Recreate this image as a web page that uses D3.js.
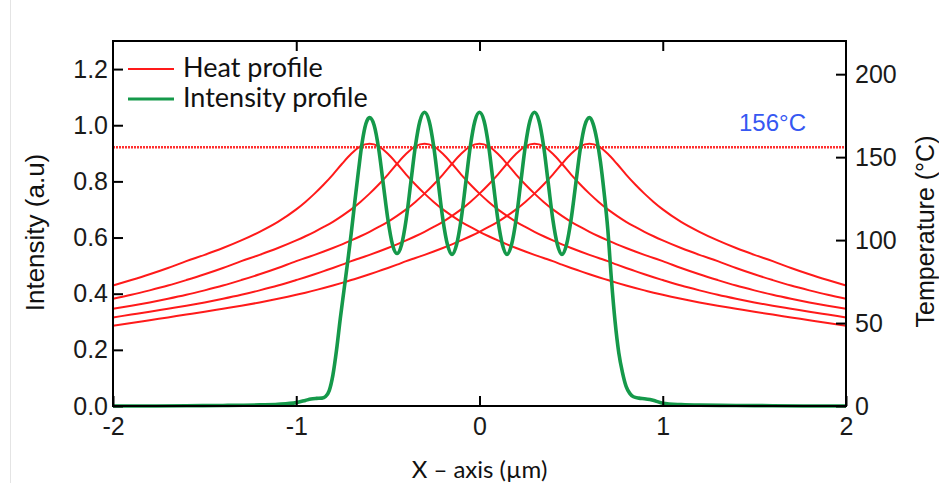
<!DOCTYPE html>
<html>
<head>
<meta charset="utf-8">
<script src="https://cdn.jsdelivr.net/npm/d3@7/dist/d3.min.js"></script>
<style>
  body { margin: 0; background: #fff; }
  svg { display: block; }
</style>
</head>
<body>
<svg id="chart" width="939" height="483"></svg>
<script>
// ---- data ----
const xTicks = [-2, -1, 0, 1, 2];
const intensityTicks = [0, 0.2, 0.4, 0.6, 0.8, 1.0, 1.2];
const tempTicks = [0, 50, 100, 150, 200];

// shared x grid (µm) for the five heat profiles
const heatX = [-2.0, -1.9, -1.8, -1.7, -1.6, -1.5, -1.4, -1.3, -1.2, -1.1, -1.0,
  -0.95, -0.9, -0.85, -0.8, -0.75, -0.7, -0.65, -0.6, -0.55, -0.5, -0.45, -0.4, -0.35, -0.3, -0.25, -0.2, -0.15, -0.1, -0.05, 0,
  0.05, 0.1, 0.15, 0.2, 0.25, 0.3, 0.35, 0.4, 0.45, 0.5, 0.55, 0.6, 0.65, 0.7, 0.75, 0.8, 0.85, 0.9, 0.95,
  1.0, 1.1, 1.2, 1.3, 1.4, 1.5, 1.6, 1.7, 1.8, 1.9, 2.0];

// temperatures (°C), heat spot centred at -0.6 µm
const heatA = [72.6, 75.9, 79.4, 83.2, 87.3, 91.1, 95.2, 99.8, 105.0, 111.0, 118.5,
  123.0, 128.0, 133.5, 139.5, 146.0, 152.0, 156.5, 158.0, 156.5, 152.0, 146.0, 139.5, 133.5, 128.0, 123.0, 118.5, 114.6, 111.0, 107.9, 105.0,
  102.3, 99.8, 97.4, 95.2, 93.1, 91.1, 89.2, 87.3, 85.2, 83.2, 81.3, 79.4, 77.6, 75.9, 74.2, 72.6, 71.1, 69.7, 68.3,
  67.0, 64.6, 62.4, 60.4, 58.6, 56.8, 55.1, 53.4, 51.7, 50.0, 48.4];
// heat spot centred at -0.3 µm
const heatB = [64.6, 67.0, 69.7, 72.6, 75.9, 79.4, 83.2, 87.3, 91.1, 95.2, 99.8,
  102.3, 105.0, 107.9, 111.0, 114.6, 118.5, 123.0, 128.0, 133.5, 139.5, 146.0, 152.0, 156.5, 158.0, 156.5, 152.0, 146.0, 139.5, 133.5, 128.0,
  123.0, 118.5, 114.6, 111.0, 107.9, 105.0, 102.3, 99.8, 97.4, 95.2, 93.1, 91.1, 89.2, 87.3, 85.2, 83.2, 81.3, 79.4, 77.6,
  75.9, 72.6, 69.7, 67.0, 64.6, 62.4, 60.4, 58.6, 56.8, 55.1, 53.4];
// heat spot centred at 0 µm
const heatC = [58.6, 60.4, 62.4, 64.6, 67.0, 69.7, 72.6, 75.9, 79.4, 83.2, 87.3,
  89.2, 91.1, 93.1, 95.2, 97.4, 99.8, 102.3, 105.0, 107.9, 111.0, 114.6, 118.5, 123.0, 128.0, 133.5, 139.5, 146.0, 152.0, 156.5, 158.0,
  156.5, 152.0, 146.0, 139.5, 133.5, 128.0, 123.0, 118.5, 114.6, 111.0, 107.9, 105.0, 102.3, 99.8, 97.4, 95.2, 93.1, 91.1, 89.2,
  87.3, 83.2, 79.4, 75.9, 72.6, 69.7, 67.0, 64.6, 62.4, 60.4, 58.6];
// heat spot centred at 0.3 µm
const heatD = [53.4, 55.1, 56.8, 58.6, 60.4, 62.4, 64.6, 67.0, 69.7, 72.6, 75.9,
  77.6, 79.4, 81.3, 83.2, 85.2, 87.3, 89.2, 91.1, 93.1, 95.2, 97.4, 99.8, 102.3, 105.0, 107.9, 111.0, 114.6, 118.5, 123.0, 128.0,
  133.5, 139.5, 146.0, 152.0, 156.5, 158.0, 156.5, 152.0, 146.0, 139.5, 133.5, 128.0, 123.0, 118.5, 114.6, 111.0, 107.9, 105.0, 102.3,
  99.8, 95.2, 91.1, 87.3, 83.2, 79.4, 75.9, 72.6, 69.7, 67.0, 64.6];
// heat spot centred at 0.6 µm
const heatE = [48.4, 50.0, 51.7, 53.4, 55.1, 56.8, 58.6, 60.4, 62.4, 64.6, 67.0,
  68.3, 69.7, 71.1, 72.6, 74.2, 75.9, 77.6, 79.4, 81.3, 83.2, 85.2, 87.3, 89.2, 91.1, 93.1, 95.2, 97.4, 99.8, 102.3, 105.0,
  107.9, 111.0, 114.6, 118.5, 123.0, 128.0, 133.5, 139.5, 146.0, 152.0, 156.5, 158.0, 156.5, 152.0, 146.0, 139.5, 133.5, 128.0, 123.0,
  118.5, 111.0, 105.0, 99.8, 95.2, 91.1, 87.3, 83.2, 79.4, 75.9, 72.6];

// optical intensity profile (a.u.)
const intensityX = [-2.0, -1.8, -1.6, -1.4, -1.2, -1.1, -1.0, -0.95, -0.92, -0.89, -0.86, -0.84,
  -0.82, -0.80, -0.78, -0.76, -0.74, -0.72, -0.70, -0.68, -0.66, -0.64, -0.62, -0.60,
  -0.575, -0.55, -0.525, -0.50, -0.475, -0.45, -0.425, -0.40, -0.375, -0.35, -0.325, -0.30,
  -0.275, -0.25, -0.225, -0.20, -0.175, -0.15, -0.125, -0.10, -0.075, -0.05, -0.025, 0,
  0.025, 0.05, 0.075, 0.10, 0.125, 0.15, 0.175, 0.20, 0.225, 0.25, 0.275, 0.30,
  0.325, 0.35, 0.375, 0.40, 0.425, 0.45, 0.475, 0.50, 0.525, 0.55, 0.575, 0.60,
  0.62, 0.64, 0.66, 0.68, 0.70, 0.72, 0.74, 0.76, 0.78, 0.80, 0.82, 0.84,
  0.87, 0.90, 0.93, 0.96, 1.0, 1.1, 1.2, 1.4, 1.6, 1.8, 2.0];
const intensityY = [0.000, 0.000, 0.001, 0.002, 0.004, 0.006, 0.012, 0.020, 0.025, 0.027, 0.028, 0.034,
  0.055, 0.11, 0.20, 0.31, 0.41, 0.51, 0.615, 0.73, 0.84, 0.94, 1.005, 1.027,
  1.00, 0.915, 0.79, 0.665, 0.575, 0.543, 0.575, 0.665, 0.795, 0.925, 1.015, 1.046,
  1.015, 0.925, 0.795, 0.665, 0.575, 0.540, 0.575, 0.665, 0.795, 0.925, 1.015, 1.046,
  1.015, 0.925, 0.795, 0.665, 0.575, 0.540, 0.575, 0.665, 0.795, 0.925, 1.015, 1.046,
  1.015, 0.925, 0.795, 0.665, 0.575, 0.540, 0.575, 0.665, 0.79, 0.915, 1.00, 1.027,
  1.005, 0.95, 0.87, 0.76, 0.63, 0.45, 0.30, 0.19, 0.12, 0.07, 0.045, 0.033,
  0.028, 0.026, 0.023, 0.018, 0.010, 0.005, 0.003, 0.002, 0.001, 0.000, 0.000];

const thresholdTemp = 156;
const legendLabels = ["Heat profile", "Intensity profile"];

// ---- layout ----
const svg = d3.select("#chart");
const W = 939, H = 483;
const plot = { left: 113, right: 846, top: 41, bottom: 406 };
const RED = "#ff1a1a", GREEN = "#15994a", BLUE = "#3658f2";
const tickFont = "'Liberation Sans', Arial, sans-serif";
const textFont = "Lato, 'Open Sans', sans-serif";
const hyphenInt = (d) => String(d);   // plain hyphen for negatives

const x = d3.scaleLinear().domain([-2, 2]).range([plot.left, plot.right]);
const yI = d3.scaleLinear().domain([0, 1.3]).range([plot.bottom, plot.top]);
const yT = d3.scaleLinear().domain([0, 220]).range([plot.bottom, plot.top]);

svg.append("rect").attr("width", W).attr("height", H).attr("fill", "#fff");
// faint page edge on the left
svg.append("line").attr("x1", 10.5).attr("x2", 10.5).attr("y1", 0).attr("y2", H)
  .attr("stroke", "#e4e4e4").attr("stroke-width", 1);

// heat profiles
const heatLine = d3.line().x((d) => x(d[0])).y((d) => yT(d[1])).curve(d3.curveMonotoneX);
[heatA, heatB, heatC, heatD, heatE].forEach((series) => {
  svg.append("path")
    .datum(heatX.map((v, i) => [v, series[i]]))
    .attr("fill", "none").attr("stroke", RED).attr("stroke-width", 2)
    .attr("d", heatLine);
});

// threshold temperature line
svg.append("line")
  .attr("x1", plot.left).attr("x2", plot.right)
  .attr("y1", yT(thresholdTemp)).attr("y2", yT(thresholdTemp))
  .attr("stroke", RED).attr("stroke-width", 2.5).attr("stroke-dasharray", "2,1")
  .attr("opacity", 0.9);
svg.append("text")
  .attr("x", 806).attr("y", 131).attr("text-anchor", "end")
  .attr("font-family", tickFont).attr("font-size", 24).attr("fill", BLUE)
  .text(thresholdTemp + "°C");

// intensity profile
const intLine = d3.line().x((d) => x(d[0])).y((d) => yI(d[1])).curve(d3.curveMonotoneX);
svg.append("path")
  .datum(intensityX.map((v, i) => [v, intensityY[i]]))
  .attr("fill", "none").attr("stroke", GREEN).attr("stroke-width", 3.6)
  .attr("stroke-linejoin", "round")
  .attr("d", intLine);

// axes
function styleAxis(g) {
  g.select(".domain").remove();
  g.selectAll(".tick line").attr("stroke", "#000").attr("stroke-width", 2);
  g.selectAll(".tick text").attr("font-family", tickFont).attr("font-size", 25).attr("fill", "#1a1a1a");
}
svg.append("g").attr("transform", `translate(${plot.left},0)`)
  .call(d3.axisLeft(yI).tickValues(intensityTicks).tickFormat(d3.format(".1f"))
    .tickSizeInner(-10).tickSizeOuter(0).tickPadding(5))
  .call(styleAxis);
svg.append("g").attr("transform", `translate(${plot.right},0)`)
  .call(d3.axisRight(yT).tickValues(tempTicks).tickFormat(hyphenInt)
    .tickSizeInner(-10).tickSizeOuter(0).tickPadding(9))
  .call(styleAxis);
svg.append("g").attr("transform", `translate(0,${plot.bottom})`)
  .call(d3.axisBottom(x).tickValues(xTicks).tickFormat(hyphenInt)
    .tickSizeInner(-10).tickSizeOuter(0).tickPadding(11))
  .call(styleAxis);
svg.append("g").attr("transform", `translate(0,${plot.top})`)
  .call(d3.axisTop(x).tickValues(xTicks.slice(1, -1)).tickFormat("")
    .tickSizeInner(-10).tickSizeOuter(0))
  .call(styleAxis);

// frame
svg.append("rect")
  .attr("x", plot.left).attr("y", plot.top)
  .attr("width", plot.right - plot.left).attr("height", plot.bottom - plot.top)
  .attr("fill", "none").attr("stroke", "#000").attr("stroke-width", 2);

// axis titles
svg.append("text")
  .attr("transform", `translate(44,${(plot.top + plot.bottom) / 2 + 9}) rotate(-90)`)
  .attr("text-anchor", "middle")
  .attr("font-family", tickFont).attr("font-size", 26).attr("fill", "#111")
  .text("Intensity (a.u)");
svg.append("text")
  .attr("transform", `translate(934,${(plot.top + plot.bottom) / 2 + 8}) rotate(-90)`)
  .attr("text-anchor", "middle")
  .attr("font-family", tickFont).attr("font-size", 25).attr("fill", "#111")
  .text("Temperature (°C)");
svg.append("text")
  .attr("x", (plot.left + plot.right) / 2).attr("y", 478)
  .attr("text-anchor", "middle")
  .attr("font-family", textFont).attr("font-size", 24).attr("fill", "#111")
  .text("X – axis (µm)");

// legend
const legend = svg.append("g");
[RED, GREEN].forEach((c, i) => {
  const ly = 69 + i * 30;
  legend.append("line").attr("x1", 128).attr("x2", 174).attr("y1", ly).attr("y2", ly)
    .attr("stroke", c).attr("stroke-width", i ? 3 : 2);
  legend.append("text").attr("x", 183).attr("y", ly + 8)
    .attr("font-family", textFont).attr("font-size", 27).attr("fill", "#111")
    .text(legendLabels[i]);
});
</script>
</body>
</html>
